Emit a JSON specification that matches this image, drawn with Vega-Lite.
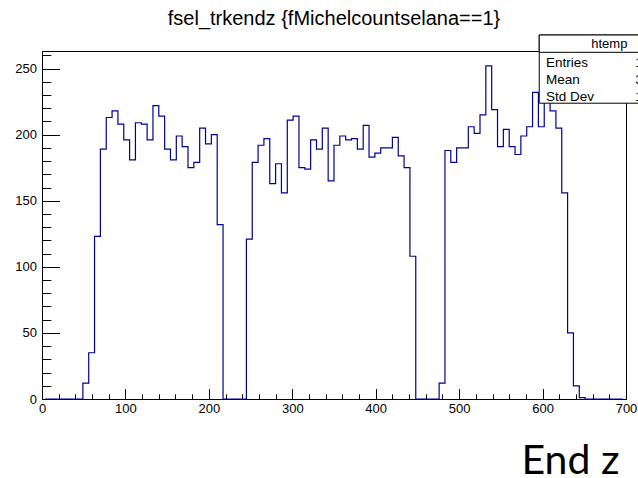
{
  "$schema": "https://vega.github.io/schema/vega-lite/v6.json",
  "autosize": "none",
  "width": 584,
  "height": 348,
  "padding": {"top": 51, "left": 42, "right": 12, "bottom": 79},
  "background": "white",
  "config": {
    "font": "Liberation Sans",
    "view": {"stroke": "black", "strokeWidth": 1},
    "axis": {"grid": false, "domainColor": "black", "tickColor": "black", "labelColor": "black", "labelFont": "Liberation Sans", "labelFontSize": 13}
  },
  "title": {
    "text": "fsel_trkendz {fMichelcountselana==1}",
    "font": "Liberation Sans",
    "fontSize": 20,
    "fontWeight": "normal",
    "color": "black",
    "anchor": "middle",
    "baseline": "alphabetic",
    "offset": 10.5,
    "dy": 21
  },
  "resolve": {"axis": {"x": "independent", "y": "independent"}},
  "data": {"values": [
    {"z": 3.5, "n": 0}, {"z": 10.5, "n": 0}, {"z": 17.5, "n": 0}, {"z": 24.5, "n": 0}, {"z": 31.5, "n": 0},
    {"z": 38.5, "n": 0}, {"z": 45.5, "n": 0}, {"z": 52.5, "n": 12}, {"z": 59.5, "n": 35}, {"z": 66.5, "n": 123},
    {"z": 73.5, "n": 189}, {"z": 80.5, "n": 213}, {"z": 87.5, "n": 218}, {"z": 94.5, "n": 208}, {"z": 101.5, "n": 196},
    {"z": 108.5, "n": 181}, {"z": 115.5, "n": 209}, {"z": 122.5, "n": 208}, {"z": 129.5, "n": 196}, {"z": 136.5, "n": 222},
    {"z": 143.5, "n": 214}, {"z": 150.5, "n": 189}, {"z": 157.5, "n": 181}, {"z": 164.5, "n": 199}, {"z": 171.5, "n": 191},
    {"z": 178.5, "n": 175}, {"z": 185.5, "n": 179}, {"z": 192.5, "n": 205}, {"z": 199.5, "n": 193}, {"z": 206.5, "n": 200},
    {"z": 213.5, "n": 132}, {"z": 220.5, "n": 0}, {"z": 227.5, "n": 0}, {"z": 234.5, "n": 0}, {"z": 241.5, "n": 0},
    {"z": 248.5, "n": 121}, {"z": 255.5, "n": 179}, {"z": 262.5, "n": 192}, {"z": 269.5, "n": 197}, {"z": 276.5, "n": 163},
    {"z": 283.5, "n": 178}, {"z": 290.5, "n": 156}, {"z": 297.5, "n": 211}, {"z": 304.5, "n": 214}, {"z": 311.5, "n": 175},
    {"z": 318.5, "n": 174}, {"z": 325.5, "n": 196}, {"z": 332.5, "n": 189}, {"z": 339.5, "n": 205}, {"z": 346.5, "n": 165},
    {"z": 353.5, "n": 192}, {"z": 360.5, "n": 199}, {"z": 367.5, "n": 196}, {"z": 374.5, "n": 197}, {"z": 381.5, "n": 189},
    {"z": 388.5, "n": 207}, {"z": 395.5, "n": 183}, {"z": 402.5, "n": 186}, {"z": 409.5, "n": 190}, {"z": 416.5, "n": 190},
    {"z": 423.5, "n": 198}, {"z": 430.5, "n": 184}, {"z": 437.5, "n": 175}, {"z": 444.5, "n": 108}, {"z": 451.5, "n": 0},
    {"z": 458.5, "n": 0}, {"z": 465.5, "n": 0}, {"z": 472.5, "n": 0}, {"z": 479.5, "n": 12}, {"z": 486.5, "n": 188},
    {"z": 493.5, "n": 179}, {"z": 500.5, "n": 190}, {"z": 507.5, "n": 190}, {"z": 514.5, "n": 206}, {"z": 521.5, "n": 201},
    {"z": 528.5, "n": 215}, {"z": 535.5, "n": 252}, {"z": 542.5, "n": 219}, {"z": 549.5, "n": 191}, {"z": 556.5, "n": 204},
    {"z": 563.5, "n": 191}, {"z": 570.5, "n": 185}, {"z": 577.5, "n": 199}, {"z": 584.5, "n": 206}, {"z": 591.5, "n": 232},
    {"z": 598.5, "n": 206}, {"z": 605.5, "n": 240}, {"z": 612.5, "n": 218}, {"z": 619.5, "n": 205}, {"z": 626.5, "n": 156},
    {"z": 633.5, "n": 50}, {"z": 640.5, "n": 10}, {"z": 647.5, "n": 1}, {"z": 654.5, "n": 0}, {"z": 661.5, "n": 0},
    {"z": 668.5, "n": 0}, {"z": 675.5, "n": 0}, {"z": 682.5, "n": 0}, {"z": 689.5, "n": 0}, {"z": 696.5, "n": 0}
  ]},
  "layer": [
    {
      "mark": {"type": "line", "interpolate": "step", "color": "#000099", "strokeWidth": 1.2},
      "encoding": {
        "x": {
          "field": "z", "type": "quantitative",
          "scale": {"domain": [0, 700], "nice": false, "zero": false},
          "axis": {
            "orient": "bottom",
            "title": "End z",
            "titleFont": "Lato",
            "titleFontSize": 41,
            "titleFontWeight": "normal",
            "titleColor": "black",
            "titleAlign": "right",
            "titleBaseline": "alphabetic",
            "titleX": 577,
            "titleY": 74,
            "values": [0, 100, 200, 300, 400, 500, 600, 700],
            "tickSize": -10.4,
            "labelPadding": 14,
            "labelFlush": false,
            "labelOverlap": false,
            "format": "d"
          }
        },
        "y": {
          "field": "n", "type": "quantitative",
          "scale": {"domain": [0, 263.3], "nice": false},
          "axis": {
            "orient": "left",
            "title": null,
            "values": [0, 50, 100, 150, 200, 250],
            "tickSize": -17.5,
            "labelPadding": 23,
            "labelFlush": false,
            "labelOverlap": false,
            "format": "d"
          }
        }
      }
    },
    {
      "data": {"values": [{}]},
      "mark": {"type": "rect", "fill": "white", "stroke": "black", "strokeWidth": 1, "clip": false},
      "encoding": {
        "x": {"datum": 596, "type": "quantitative", "axis": {
          "orient": "bottom", "title": null, "labels": false, "domain": false,
          "values": [0, 20, 40, 60, 80, 120, 140, 160, 180, 220, 240, 260, 280, 320, 340, 360, 380, 420, 440, 460, 480, 520, 540, 560, 580, 620, 640, 660, 680],
          "tickSize": -5.2
        }},
        "x2": {"datum": 780},
        "y": {"datum": 275.4, "type": "quantitative", "axis": {
          "orient": "left", "title": null, "labels": false, "domain": false,
          "values": [10, 20, 30, 40, 60, 70, 80, 90, 110, 120, 130, 140, 160, 170, 180, 190, 210, 220, 230, 240, 260],
          "tickSize": -8.8
        }},
        "y2": {"datum": 223.8}
      }
    },
    {
      "data": {"values": [{}]},
      "mark": {"type": "rect", "fill": "white", "stroke": "black", "strokeWidth": 1, "clip": false},
      "encoding": {
        "x": {"datum": 596, "type": "quantitative", "axis": null}, "x2": {"datum": 780},
        "y": {"datum": 275.4, "type": "quantitative", "axis": null}, "y2": {"datum": 262.3}
      }
    },
    {
      "data": {"values": [{}]},
      "mark": {"type": "text", "font": "Liberation Sans", "fontSize": 13, "color": "black", "align": "center", "baseline": "middle"},
      "encoding": {
        "x": {"datum": 680, "type": "quantitative", "axis": null},
        "y": {"datum": 268.9, "type": "quantitative", "axis": null},
        "text": {"value": "htemp"}
      }
    },
    {
      "data": {"values": [{}]},
      "mark": {"type": "text", "font": "Liberation Sans", "fontSize": 13.5, "color": "black", "align": "left", "baseline": "alphabetic", "lineHeight": 17},
      "encoding": {
        "x": {"datum": 604, "type": "quantitative", "axis": null},
        "y": {"datum": 251.5, "type": "quantitative", "axis": null},
        "text": {"value": ["Entries", "Mean", "Std Dev"]}
      }
    },
    {
      "data": {"values": [{}]},
      "mark": {"type": "text", "font": "Liberation Sans", "fontSize": 13.5, "color": "black", "align": "left", "baseline": "alphabetic", "lineHeight": 17},
      "encoding": {
        "x": {"datum": 711, "type": "quantitative", "axis": null},
        "y": {"datum": 251.5, "type": "quantitative", "axis": null},
        "text": {"value": ["13923", "341.5", "178.3"]}
      }
    }
  ]
}
